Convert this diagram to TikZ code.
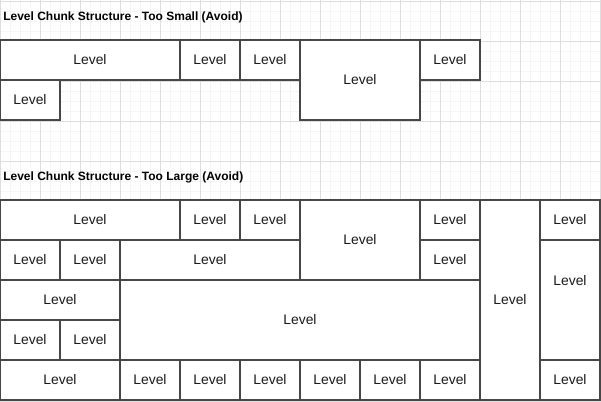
\documentclass[tikz,border=0pt]{standalone}
\usepackage{fontspec}
\setmainfont{Liberation Sans}
\tikzset{
  minorgrid/.style={draw=black!4, line width=0.75pt},
  majorgrid/.style={draw=black!13, line width=0.75pt},
  lvl/.style={draw=black!72, fill=white, line width=1pt, inner sep=0pt, outer sep=0pt,
    font=\fontsize{10.4pt}{12pt}\selectfont, text=black!90},
  ttl/.style={anchor=base west, inner sep=0pt, font=\fontsize{9pt}{11pt}\selectfont\bfseries}
}
\newcommand\lv[6][]{\node[lvl,minimum width=#5*0.75pt,minimum height=#6*0.75pt,#1] (#2) at ({#3+#5/2},{#4+#6/2}) {Level};}
\begin{document}
\begin{tikzpicture}[x=0.75pt,y=-0.75pt]
\fill[white] (0,0) rectangle (601,401);
\useasboundingbox (0,0) rectangle (601,401);
\foreach \i in {0,10,...,600} \draw[minorgrid] (\i,0) -- (\i,401);
\foreach \j in {1,11,...,401} \draw[minorgrid] (0,\j) -- (601,\j);
\foreach \i in {0,40,...,600} \draw[majorgrid] (\i,0) -- (\i,401);
\foreach \j in {1,41,...,401} \draw[majorgrid] (0,\j) -- (601,\j);
% titles
\node[ttl] (t1) at (3,20) {Level Chunk Structure - Too Small (Avoid)};
\node[ttl] (t2) at (3,180) {Level Chunk Structure - Too Large (Avoid)};
% small
\lv{s1}{0}{40}{180}{40}
\lv{s2}{180}{40}{60}{40}
\lv{s3}{240}{40}{60}{40}
\lv{s4}{300}{40}{120}{80}
\lv{s5}{420}{40}{60}{40}
\lv{s6}{0}{80}{60}{40}
% large
\lv{a1}{0}{200}{180}{40}
\lv{a2}{180}{200}{60}{40}
\lv{a3}{240}{200}{60}{40}
\lv{a4}{300}{200}{120}{80}
\lv{a5}{420}{200}{60}{40}
\lv{a6}{480}{200}{60}{200}
\lv{a7}{540}{200}{60}{40}
\lv{b1}{0}{240}{60}{40}
\lv{b2}{60}{240}{60}{40}
\lv{b3}{120}{240}{180}{40}
\lv{b4}{420}{240}{60}{40}
\lv[text depth=30pt]{b5}{540}{240}{60}{120}
\lv{c1}{0}{280}{120}{40}
\lv{c2}{120}{280}{360}{80}
\lv{d1}{0}{320}{60}{40}
\lv{d2}{60}{320}{60}{40}
\lv{e1}{0}{360}{120}{40}
\lv{e2}{120}{360}{60}{40}
\lv{e3}{180}{360}{60}{40}
\lv{e4}{240}{360}{60}{40}
\lv{e5}{300}{360}{60}{40}
\lv{e6}{360}{360}{60}{40}
\lv{e7}{420}{360}{60}{40}
\lv{e8}{540}{360}{60}{40}
\end{tikzpicture}
\end{document}
